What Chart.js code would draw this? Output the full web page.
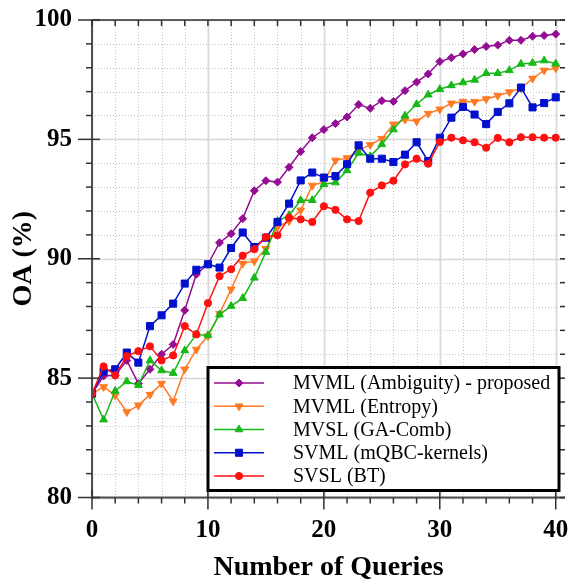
<!DOCTYPE html>
<html>
<head>
<meta charset="utf-8">
<script src="https://cdn.jsdelivr.net/npm/chart.js@4"></script>
<style>
html,body{margin:0;padding:0;background:#fff;}
#wrap{width:571px;height:585px;position:relative;}
</style>
</head>
<body>
<div id="wrap"><canvas id="c" width="571" height="585"></canvas></div>
<script>
// ---- data ----
const queries = [0,1,2,3,4,5,6,7,8,9,10,11,12,13,14,15,16,17,18,19,20,21,22,23,24,25,26,27,28,29,30,31,32,33,34,35,36,37,38,39,40];
const mvmlAmbiguity = [84.35,85.09,85.12,85.74,84.77,85.37,86.00,86.41,87.84,89.35,89.77,90.67,91.05,91.68,92.85,93.27,93.21,93.83,94.49,95.07,95.41,95.66,95.94,96.46,96.30,96.62,96.59,97.04,97.40,97.74,98.26,98.42,98.58,98.76,98.89,98.95,99.15,99.15,99.32,99.35,99.41];
const mvmlEntropy = [84.35,84.63,84.28,83.58,83.86,84.31,84.77,84.03,85.37,86.20,86.76,87.70,88.72,89.80,89.90,90.42,91.33,91.58,92.03,93.07,93.22,94.12,94.22,94.55,94.77,95.03,95.63,95.83,95.76,96.08,96.26,96.51,96.58,96.58,96.69,96.83,96.98,97.14,97.55,97.89,97.98];
const mvslGaComb = [84.35,83.26,84.46,84.86,84.70,85.74,85.32,85.21,86.16,86.83,86.79,87.66,88.02,88.35,89.20,90.28,91.58,91.82,92.45,92.45,93.12,93.19,93.70,94.43,94.29,94.79,95.41,95.99,96.47,96.87,97.10,97.26,97.38,97.49,97.77,97.77,97.89,98.16,98.20,98.30,98.17];
const svmlMqbc = [84.35,85.28,85.37,86.07,85.65,87.18,87.63,88.12,88.96,89.54,89.77,89.63,90.45,91.10,90.49,90.88,91.54,92.31,93.28,93.61,93.40,93.46,93.96,94.75,94.19,94.19,94.05,94.36,94.88,94.09,95.07,95.91,96.36,96.04,95.64,96.15,96.51,97.17,96.34,96.52,96.76];
const svslBt = [84.35,85.49,85.12,85.92,86.13,86.33,85.74,85.95,87.18,86.83,88.14,89.27,89.56,90.13,90.40,90.91,90.98,91.72,91.65,91.54,92.20,92.05,91.65,91.58,92.77,93.07,93.27,93.95,94.19,93.98,94.89,95.07,94.96,94.88,94.65,95.06,94.88,95.09,95.09,95.07,95.07];
const seriesLabels = ['MVML (Ambiguity) - proposed','MVML (Entropy)','MVSL (GA-Comb)','SVML (mQBC-kernels)','SVSL (BT)'];
const xTickValues = [0,2,4,6,8,10,12,14,16,18,20,22,24,26,28,30,32,34,36,38,40];
const xTickLabels = ['0','','','','','10','','','','','20','','','','','30','','','','','40'];
const yTickValues = [80,81,82,83,84,85,86,87,88,89,90,91,92,93,94,95,96,97,98,99,100];
const yTickLabels = ['80','','','','','85','','','','','90','','','','','95','','','','','100'];
const xTitle = 'Number of Queries';
const yTitle = 'OA (%)';

// ---- styles ----
const colors = ['#930E93','#FF7A22','#18B818','#0010CC','#FF1010'];
const styles = [
  {pointStyle:'rectRot', rot:0, r:4},
  {pointStyle:'triangle', rot:180, r:4.5},
  {pointStyle:'triangle', rot:0, r:4.5},
  {pointStyle:'rect', rot:0, r:5},
  {pointStyle:'circle', rot:0, r:3.6}
];
const seriesValues = [mvmlAmbiguity, mvmlEntropy, mvslGaComb, svmlMqbc, svslBt];
const drawOrder = [4,3,2,1,0];

const datasets = seriesValues.map((vals,i)=>({
  label: seriesLabels[i],
  data: queries.map((q,k)=>({x:q, y:vals[k]})),
  borderColor: colors[i],
  backgroundColor: colors[i],
  borderWidth: 1.5,
  pointStyle: styles[i].pointStyle,
  pointRotation: styles[i].rot,
  pointRadius: styles[i].r,
  pointBorderWidth: 1,
  tension: 0,
  order: drawOrder[i]
}));

const serif = '"Liberation Serif", "Times New Roman", serif';

function drawMarker(ctx, style, rot, r, x, y, color){
  ctx.save();
  ctx.fillStyle = color; ctx.strokeStyle = color; ctx.lineWidth = 1; ctx.setLineDash([]);
  if (Chart.helpers && Chart.helpers.drawPoint) {
    Chart.helpers.drawPoint(ctx, {pointStyle:style, rotation:rot, radius:r, borderWidth:1}, x, y);
  } else {
    ctx.beginPath(); ctx.arc(x,y,r,0,Math.PI*2); ctx.fill(); ctx.stroke();
  }
  ctx.restore();
}

const gridPlugin = {
  id:'customGrid',
  beforeDatasetsDraw(chart){
    const {ctx, chartArea:ca, scales:{x:xs, y:ys}} = chart;
    ctx.save();
    yTickValues.forEach(v=>{
      const p = Math.round(ys.getPixelForValue(v))+0.5;
      if (v%5===0){ ctx.setLineDash([]); ctx.strokeStyle='#d6d6d6'; ctx.lineWidth=1.5; }
      else { ctx.setLineDash([1,2]); ctx.strokeStyle='#c4c4c4'; ctx.lineWidth=1; }
      ctx.beginPath(); ctx.moveTo(ca.left,p); ctx.lineTo(ca.right,p); ctx.stroke();
    });
    xTickValues.forEach(v=>{
      const p = Math.round(xs.getPixelForValue(v))+0.5;
      if (v%10===0){ ctx.setLineDash([]); ctx.strokeStyle='#dcdcdc'; ctx.lineWidth=2; }
      else { ctx.setLineDash([1,2]); ctx.strokeStyle='#c4c4c4'; ctx.lineWidth=1; }
      ctx.beginPath(); ctx.moveTo(p,ca.top); ctx.lineTo(p,ca.bottom); ctx.stroke();
    });
    ctx.restore();
  },
  afterDatasetsDraw(chart){
    const {ctx, chartArea:ca, scales:{x:xs, y:ys}} = chart;
    ctx.save();
    ctx.setLineDash([]);
    ctx.strokeStyle='#303030'; ctx.lineWidth=1.5;
    ctx.beginPath(); ctx.moveTo(ca.left, ca.top); ctx.lineTo(ca.right, ca.top); ctx.stroke();
    ctx.strokeStyle='#505050'; ctx.lineWidth=2;
    ctx.beginPath(); ctx.moveTo(ca.left, ca.top); ctx.lineTo(ca.left, ca.bottom+1); ctx.stroke();
    ctx.beginPath(); ctx.moveTo(ca.left-1, ca.bottom); ctx.lineTo(ca.right, ca.bottom); ctx.stroke();
    ctx.lineWidth=1.5; ctx.strokeStyle='#303030';
    yTickValues.forEach(v=>{
      const p = ys.getPixelForValue(v);
      ctx.beginPath();
      if (v%5===0){ ctx.moveTo(ca.left-14,p); ctx.lineTo(ca.left+8,p); }
      else { ctx.moveTo(ca.left-6,p); ctx.lineTo(ca.left,p); }
      ctx.stroke();
      ctx.beginPath(); ctx.moveTo(ca.right-5,p); ctx.lineTo(ca.right,p); ctx.stroke();
    });
    xTickValues.forEach(v=>{
      const p = xs.getPixelForValue(v);
      ctx.beginPath();
      if (v%10===0){ ctx.moveTo(p,ca.bottom-8); ctx.lineTo(p,ca.bottom+12); }
      else { ctx.moveTo(p,ca.bottom); ctx.lineTo(p,ca.bottom+6); }
      ctx.stroke();
      ctx.beginPath(); ctx.moveTo(p,ca.top); ctx.lineTo(p,ca.top+6); ctx.stroke();
    });
    ctx.restore();
  },
  afterDraw(chart){
    const {ctx, chartArea:ca} = chart;
    const L = ca.left+116, R = ca.left+467, T = ca.bottom-130, B = ca.bottom-7;
    ctx.save();
    ctx.fillStyle='#fff'; ctx.fillRect(L,T,R-L,B-T);
    ctx.lineWidth=3; ctx.strokeStyle='#000'; ctx.setLineDash([]);
    ctx.strokeRect(L,T,R-L,B-T);
    chart.data.datasets.forEach((ds,i)=>{
      const y = T+15.5+i*23.25;
      ctx.strokeStyle=ds.borderColor; ctx.lineWidth=1.5;
      ctx.beginPath(); ctx.moveTo(L+6,y); ctx.lineTo(L+56,y); ctx.stroke();
      drawMarker(ctx, ds.pointStyle, ds.pointRotation, ds.pointRadius, L+31, y, ds.borderColor);
      ctx.fillStyle='#000'; ctx.font='20px '+serif; ctx.textBaseline='middle'; ctx.textAlign='left';
      ctx.fillText(ds.label, L+85, y+1);
    });
    ctx.restore();
  }
};

new Chart(document.getElementById('c'), {
  type:'line',
  data:{datasets},
  plugins:[gridPlugin],
  options:{
    responsive:false,
    animation:false,
    devicePixelRatio:1,
    layout:{padding:{top:20,right:4,left:0,bottom:0}},
    plugins:{legend:{display:false}, tooltip:{enabled:false}},
    scales:{
      x:{
        type:'linear', min:0, max:40.8,
        afterBuildTicks:(s)=>{ s.ticks = xTickValues.map(v=>({value:v})); },
        afterFit:(s)=>{ s.height = 87.5; s.paddingLeft = 0; s.paddingRight = 0; },
        ticks:{ color:'#000', font:{family:serif, size:25, weight:'bold'}, padding:18, maxRotation:0, autoSkip:false,
          callback:(v)=>{ const k = xTickValues.indexOf(v); return k>=0 ? xTickLabels[k] : ''; } },
        grid:{display:false, drawTicks:false},
        border:{display:false},
        title:{display:true, text:xTitle, color:'#000', font:{family:serif, size:28, weight:'bold'}, padding:{top:0,bottom:0}}
      },
      y:{
        type:'linear', min:80, max:100,
        afterBuildTicks:(s)=>{ s.ticks = yTickValues.map(v=>({value:v})); },
        afterFit:(s)=>{ s.width = 92; s.paddingTop = 0; s.paddingBottom = 0; },
        ticks:{ color:'#000', font:{family:serif, size:25, weight:'bold'}, padding:20, autoSkip:false,
          callback:(v)=>{ const k = yTickValues.indexOf(v); return k>=0 ? yTickLabels[k] : ''; } },
        grid:{display:false, drawTicks:false},
        border:{display:false},
        title:{display:true, text:yTitle, color:'#000', font:{family:serif, size:28, weight:'bold'}, padding:{top:7,bottom:0}}
      }
    }
  }
});
</script>
</body>
</html>
